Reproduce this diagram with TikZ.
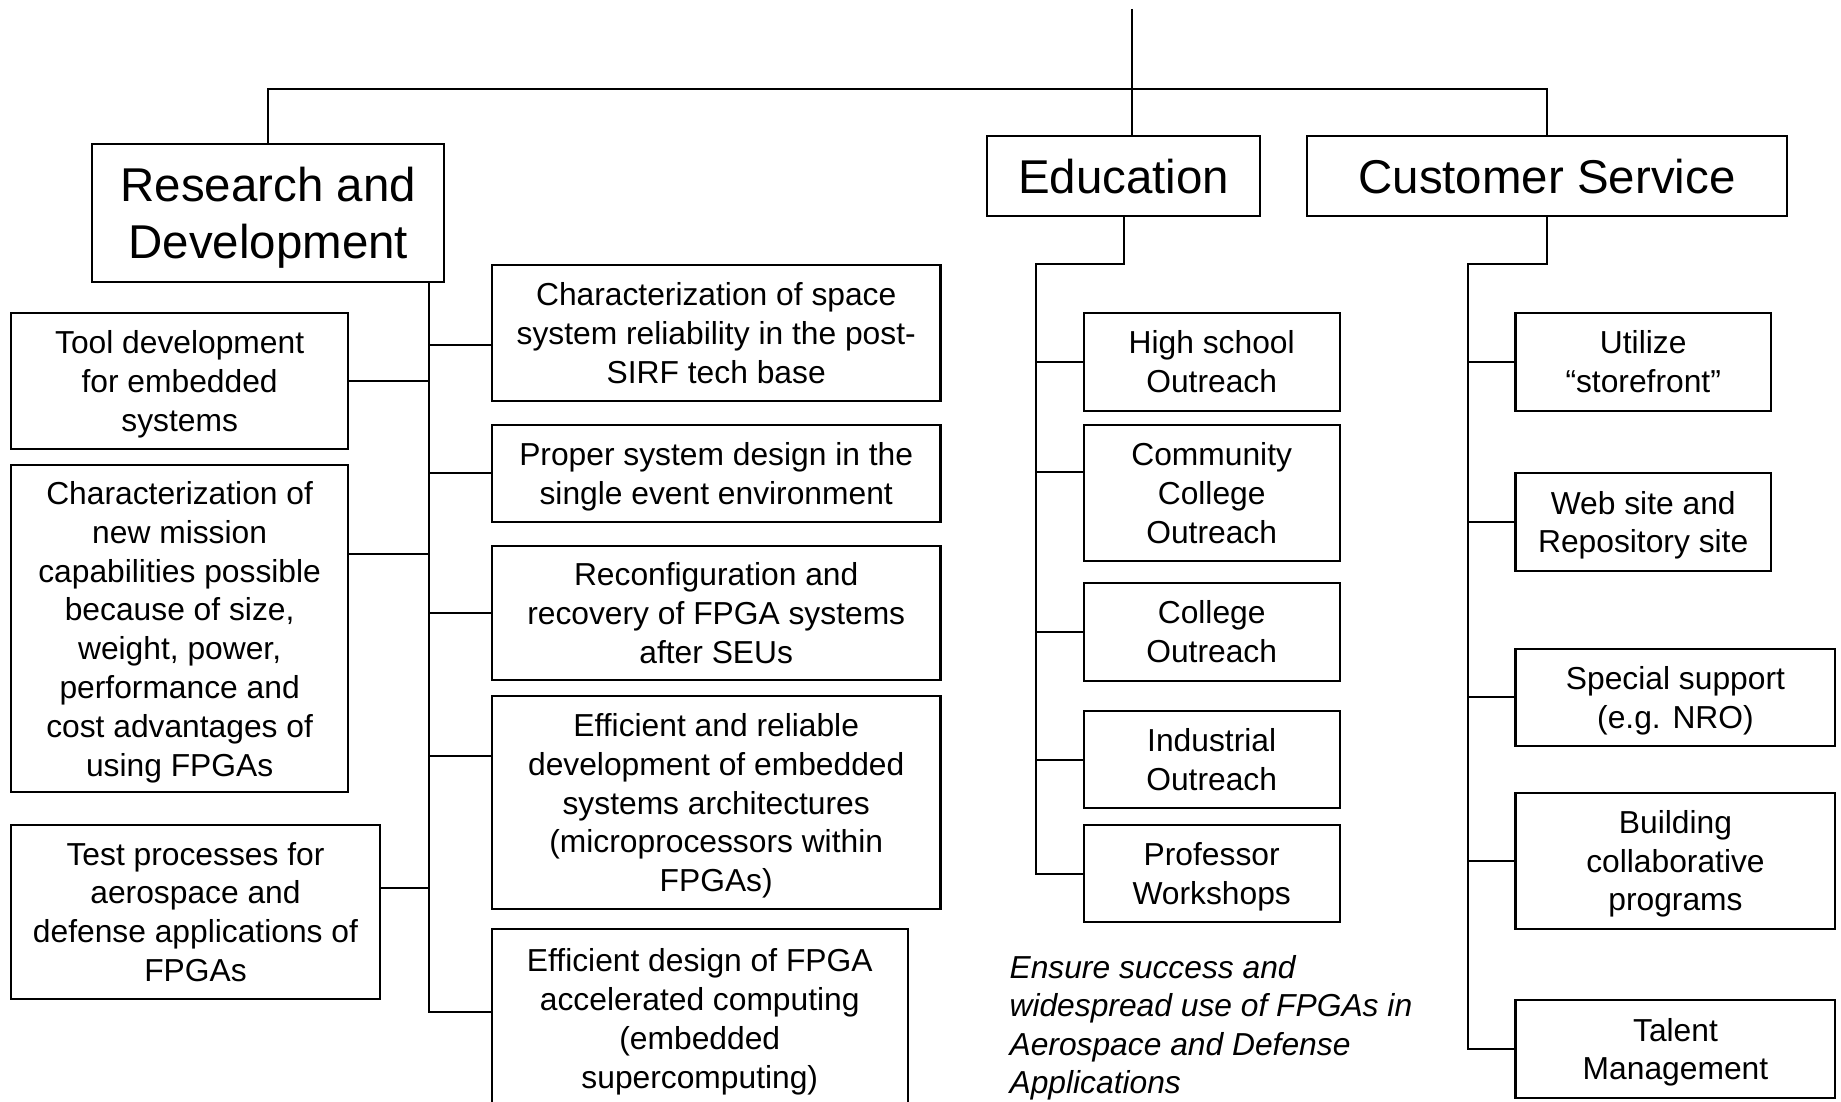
\documentclass[tikz,border=0pt]{standalone}
\usepackage{fontspec}
\setmainfont{Liberation Sans}
\usetikzlibrary{positioning}

\tikzset{
  box/.style={draw, line width=1pt, inner sep=0pt, align=center, text depth=0pt,
    font=\fontsize{15.4}{18.8}\selectfont},
  head/.style={box, font=\fontsize{23}{27.8}\selectfont},
  dims/.style 2 args={minimum width=#1cm, minimum height=#2cm},
  link/.style={line width=1pt},
}

\begin{document}
\begin{tikzpicture}
  \useasboundingbox (0,0) rectangle (31.36,-18.76);
  \clip (0,0) rectangle (31.36,-18.76);

  \node[head, dims={6.00}{2.34}] (rd) at (4.57,-3.63) {Research and\\Development};
  \node[head, dims={4.64}{1.36}] (edu) at (19.14,-3.00) {Education};
  \node[head, dims={8.17}{1.36}] (cs) at (26.35,-3.00) {Customer Service};

  \node[box, dims={5.73}{2.32}] (tool) at (3.06,-6.49) {Tool development\\for embedded\\systems};
  \node[box, dims={5.73}{5.57}] (mission) at (3.06,-10.71) {Characterization of\\new mission\\capabilities possible\\because of size,\\weight, power,\\performance and\\cost advantages of\\using FPGAs};
  \node[box, dims={6.27}{2.96}] (test) at (3.33,-15.53) {Test processes for\\aerospace and\\defense applications of\\FPGAs};
  \node[box, dims={7.64}{2.31}] (space) at (12.20,-5.67) {Characterization of space\\system reliability in the post-\\SIRF tech base};
  \node[box, dims={7.64}{1.65}] (proper) at (12.20,-8.06) {Proper system design in the\\single event environment};
  \node[box, dims={7.64}{2.29}] (reconf) at (12.20,-10.44) {Reconfiguration and\\recovery of FPGA systems\\after SEUs};
  \node[box, dims={7.64}{3.62}] (effrel) at (12.20,-13.67) {Efficient and reliable\\development of embedded\\systems architectures\\(microprocessors within\\FPGAs)};
  \node[box, dims={7.09}{3.06}] (effdes) at (11.92,-17.35) {Efficient design of FPGA\\accelerated computing\\(embedded\\supercomputing)};

  \node[box, dims={4.36}{1.67}] (hs) at (20.64,-6.16) {High school\\Outreach};
  \node[box, dims={4.36}{2.32}] (cc) at (20.64,-8.40) {Community\\College\\Outreach};
  \node[box, dims={4.36}{1.67}] (col) at (20.64,-10.76) {College\\Outreach};
  \node[box, dims={4.36}{1.66}] (ind) at (20.64,-12.94) {Industrial\\Outreach};
  \node[box, dims={4.36}{1.66}] (prof) at (20.64,-14.88) {Professor\\Workshops};
  \node[anchor=north west, inner sep=0pt, align=left,
    font=\fontsize{15.4}{18.6}\selectfont\itshape] (goal) at (17.19,-16.27)
    {Ensure success and\\widespread use of FPGAs in\\Aerospace and Defense\\Applications};

  \node[box, dims={4.35}{1.67}] (util) at (27.99,-6.16) {Utilize\\``storefront''};
  \node[box, dims={4.35}{1.66}] (web) at (27.99,-8.89) {Web site and\\Repository site};
  \node[box, dims={5.45}{1.66}] (spec) at (28.54,-11.88) {Special support\\(e.g. NRO)};
  \node[box, dims={5.45}{2.32}] (build) at (28.54,-14.66) {Building\\collaborative\\programs};
  \node[box, dims={5.45}{1.66}] (talent) at (28.54,-17.87) {Talent\\Management};

  \coordinate (top) at (19.28,-0.15);
  \coordinate (bus) at (19.28,-1.51);
  \coordinate (rdend) at (7.30,-17.24);
  \coordinate (edubend) at (17.64,-4.50);
  \coordinate (csbend) at (25.00,-4.50);

  \draw[link] (top) -- (edu.north -| top);
  \draw[link] (rd.north) |- (bus) -| (cs.north);

  \draw[link] (rd.south -| rdend) -- (rdend) -- (rdend -| effdes.west);
  \draw[link] (tool.east) -- (tool.east -| rdend);
  \draw[link] ([yshift=1.28cm]mission.east) -- ([yshift=1.28cm]mission.east -| rdend);
  \draw[link] ([yshift=0.4cm]test.east) -- ([yshift=0.4cm]test.east -| rdend);
  \draw[link] ([yshift=-0.2cm]space.west -| rdend) -- ([yshift=-0.2cm]space.west);
  \draw[link] (proper.west -| rdend) -- (proper.west);
  \draw[link] (reconf.west -| rdend) -- (reconf.west);
  \draw[link] ([yshift=0.8cm]effrel.west -| rdend) -- ([yshift=0.8cm]effrel.west);

  \draw[link] (edu.south) |- (edubend) -- (edubend |- prof.west) -- (prof.west);
  \draw[link] (edubend |- hs.west) -- (hs.west);
  \draw[link] ([yshift=0.354cm]cc.west -| edubend) -- ([yshift=0.354cm]cc.west);
  \draw[link] (edubend |- col.west) -- (col.west);
  \draw[link] (edubend |- ind.west) -- (ind.west);

  \draw[link] (cs.south) |- (csbend) -- (csbend |- talent.west) -- (talent.west);
  \draw[link] (csbend |- util.west) -- (util.west);
  \draw[link] (csbend |- web.west) -- (web.west);
  \draw[link] (csbend |- spec.west) -- (spec.west);
  \draw[link] (csbend |- build.west) -- (build.west);
\end{tikzpicture}
\end{document}
